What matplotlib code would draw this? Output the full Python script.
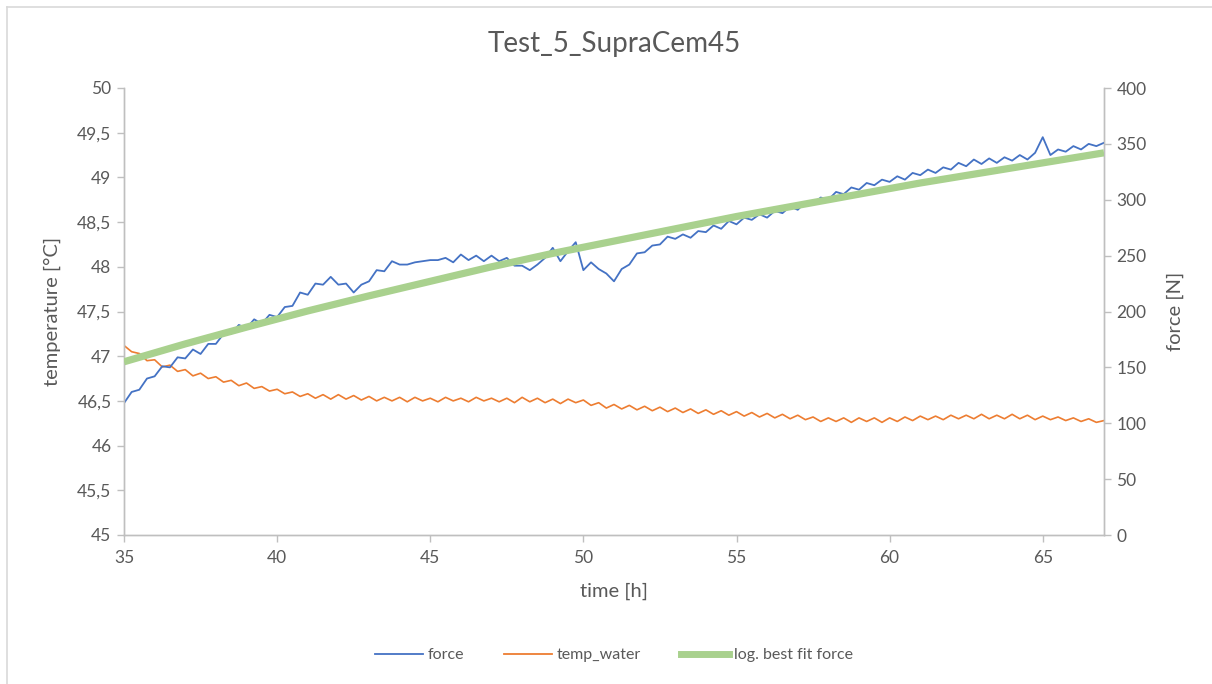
import numpy as np
import matplotlib
matplotlib.use('Agg')
import matplotlib.pyplot as plt
from matplotlib.lines import Line2D
from matplotlib.ticker import FuncFormatter

# ===== DATA =====
time_h = np.arange(35.0, 67.01, 0.25)

force_n = [
    118, 128, 130, 140, 142, 151, 150, 159, 158, 166, 162, 171,
    171, 180, 180, 188, 185, 193, 189, 197, 195, 204, 205, 217,
    215, 225, 224, 231, 224, 225, 217, 224, 227, 237, 236, 245,
    242, 242, 244, 245, 246, 246, 248, 244, 251, 246, 250, 245,
    250, 245, 248, 241, 241, 237, 242, 248, 257, 245, 254, 262,
    237, 244, 238, 234, 227, 238, 242, 252, 253, 259, 260, 267,
    265, 269, 266, 272, 271, 277, 274, 281, 278, 284, 282, 287,
    284, 290, 288, 294, 291, 298, 296, 302, 300, 307, 305, 311,
    309, 315, 313, 318, 316, 321, 318, 324, 322, 327, 324, 329,
    327, 333, 330, 336, 332, 337, 333, 338, 335, 340, 336, 342,
    356, 340, 345, 343, 348, 345, 350, 348, 351,
]

temp_water = [
    47.12, 47.05, 47.03, 46.95, 46.96, 46.88, 46.90, 46.83, 46.85, 46.78, 46.81, 46.75,
    46.77, 46.71, 46.73, 46.67, 46.70, 46.64, 46.66, 46.61, 46.63, 46.58, 46.60, 46.55,
    46.58, 46.53, 46.57, 46.52, 46.57, 46.52, 46.56, 46.51, 46.55, 46.50, 46.54, 46.50,
    46.54, 46.49, 46.54, 46.50, 46.53, 46.49, 46.54, 46.50, 46.53, 46.49, 46.54, 46.50,
    46.53, 46.49, 46.53, 46.48, 46.54, 46.49, 46.53, 46.48, 46.52, 46.47, 46.52, 46.48,
    46.51, 46.45, 46.48, 46.42, 46.46, 46.41, 46.45, 46.40, 46.44, 46.39, 46.43, 46.38,
    46.42, 46.37, 46.41, 46.36, 46.40, 46.35, 46.39, 46.34, 46.38, 46.33, 46.37, 46.32,
    46.36, 46.31, 46.35, 46.30, 46.34, 46.29, 46.32, 46.27, 46.31, 46.27, 46.31, 46.26,
    46.31, 46.27, 46.31, 46.26, 46.31, 46.27, 46.32, 46.28, 46.33, 46.29, 46.33, 46.29,
    46.34, 46.30, 46.34, 46.30, 46.35, 46.30, 46.34, 46.30, 46.35, 46.30, 46.34, 46.29,
    46.33, 46.29, 46.32, 46.28, 46.31, 46.27, 46.30, 46.26, 46.28,
]

fit_time = [35, 37, 39, 41, 43, 45, 47, 49, 51, 53, 55, 57, 59, 61, 63, 65, 67]
fit_force = [155, 171, 186, 200.5, 214, 227, 240, 252, 263, 274, 285, 295, 305, 315, 324, 333, 342]

temp_ticks = [45, 45.5, 46, 46.5, 47, 47.5, 48, 48.5, 49, 49.5, 50]
force_ticks = [0, 50, 100, 150, 200, 250, 300, 350, 400]
time_ticks = [35, 40, 45, 50, 55, 60, 65]
# ===== DATA =====

plt.rcParams['font.family'] = ['Lato', 'DejaVu Sans']
txt = '#595959'
axis_col = '#BFBFBF'
c_force = '#4472C4'
c_temp = '#ED7D31'
c_fit = '#A9D18E'

fig = plt.figure(figsize=(12.12, 6.84), dpi=100)
ax = fig.add_axes([124 / 1212, 1 - 535 / 684, 980 / 1212, 447 / 684])
ax2 = ax.twinx()

ax.plot(time_h, temp_water, color=c_temp, lw=1.2, zorder=2)
ax2.plot(time_h, force_n, color=c_force, lw=1.3, zorder=2)
ax2.plot(fit_time, fit_force, color=c_fit, lw=5.2, solid_capstyle='butt', zorder=3)

ax.set_xlim(35, 67)
ax.set_ylim(45, 50)
ax2.set_ylim(0, 400)
ax.set_xticks(time_ticks)
ax.set_yticks(temp_ticks)
ax2.set_yticks(force_ticks)
ax.yaxis.set_major_formatter(FuncFormatter(lambda v, p: ('%g' % v).replace('.', ',')))

for a in (ax, ax2):
    a.set_facecolor('none')
    a.spines['top'].set_visible(False)
    for s in ('left', 'right', 'bottom'):
        a.spines[s].set_color(axis_col)
        a.spines[s].set_linewidth(1.0)
    a.tick_params(colors=txt, labelsize=12.5, length=5, width=1.0, color=axis_col, pad=4)
ax.tick_params(axis='x', pad=6)

ax.set_xlabel('time [h]', color=txt, fontsize=14.5, labelpad=12)
ax.set_ylabel('temperature [°C]', color=txt, fontsize=14.5, labelpad=12)
ax2.set_ylabel('force [N]', color=txt, fontsize=14.5, labelpad=14)
fig.text(614 / 1212, 1 - 44 / 684, 'Test_5_SupraCem45', ha='center', va='center',
         color=txt, fontsize=20)

handles = [Line2D([], [], color=c_force, lw=1.3),
           Line2D([], [], color=c_temp, lw=1.3),
           Line2D([], [], color=c_fit, lw=5)]
fig.legend(handles, ['force', 'temp_water', 'log. best fit force'], loc='center',
           bbox_to_anchor=(614 / 1212, 1 - 655 / 684), ncol=3, frameon=False,
           fontsize=11.5, labelcolor=txt, handlelength=3, handletextpad=0.3, columnspacing=2.5)

# chart border (only top and left edges visible in the screenshot)
fig.add_artist(Line2D([7 / 1212, 7 / 1212], [0, 1 - 7 / 684], color='#D9D9D9', lw=1.2,
                      transform=fig.transFigure))
fig.add_artist(Line2D([7 / 1212, 1], [1 - 7 / 684, 1 - 7 / 684], color='#D9D9D9', lw=1.2,
                      transform=fig.transFigure))

fig.savefig('out.png', dpi=100)
